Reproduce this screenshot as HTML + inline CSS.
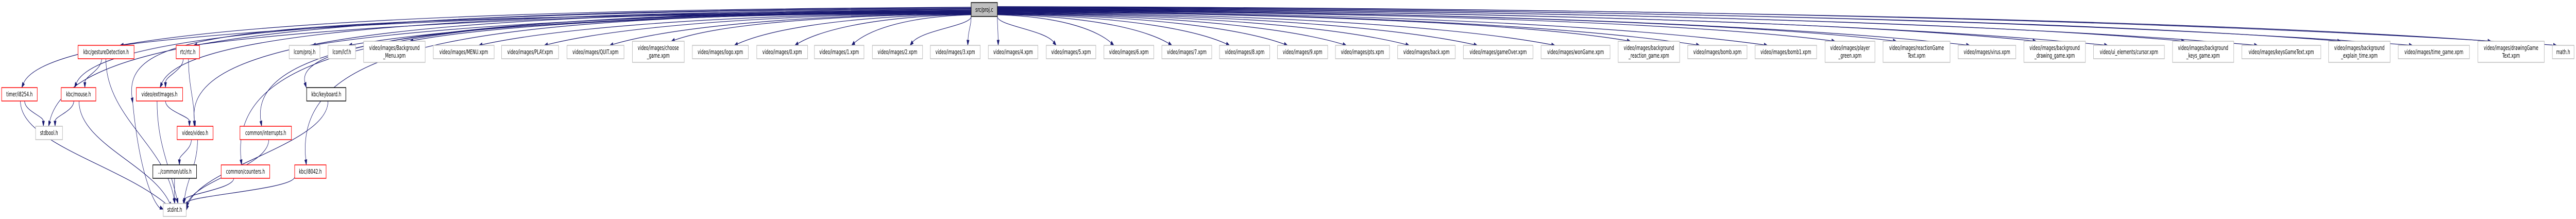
<!DOCTYPE html>
<html><head><meta charset="utf-8"><style>
html,body{margin:0;padding:0;background:#fff;width:100%;height:100%;overflow:hidden}
svg{display:block;overflow:hidden;width:100vw;height:100vh}
svg text{font-family:"DejaVu Sans","Liberation Sans",sans-serif;font-size:12px;fill:#000}
</style></head><body>
<svg id="s" viewBox="0 0 7955 425" preserveAspectRatio="none" xmlns="http://www.w3.org/2000/svg">
<g id="edges" fill="none" stroke="#191970" stroke-width="1.2"></g>
<g id="arrows" fill="#191970" stroke="#191970" stroke-width="1"></g>
<g stroke-width="1.5" fill="#fff">
<rect x="2999" y="5" width="81" height="27" fill="#bfbfbf" stroke="#000"/>
<rect x="241" y="88" width="173" height="26" stroke="#ff0000"/>
<rect x="544" y="88" width="72" height="26" stroke="#ff0000"/>
<rect x="893" y="88" width="95" height="26" stroke="#bfbfbf"/>
<rect x="1013" y="88" width="85" height="26" stroke="#bfbfbf"/>
<rect x="1123" y="80" width="190" height="41" stroke="#bfbfbf"/>
<rect x="1338" y="88" width="188" height="26" stroke="#bfbfbf"/>
<rect x="1549" y="88" width="176" height="26" stroke="#bfbfbf"/>
<rect x="1751" y="88" width="176" height="26" stroke="#bfbfbf"/>
<rect x="1953" y="80" width="160" height="41" stroke="#bfbfbf"/>
<rect x="2138" y="88" width="173" height="26" stroke="#bfbfbf"/>
<rect x="2337" y="88" width="157" height="26" stroke="#bfbfbf"/>
<rect x="2515" y="88" width="153" height="26" stroke="#bfbfbf"/>
<rect x="2694" y="88" width="155" height="26" stroke="#bfbfbf"/>
<rect x="2873" y="88" width="154" height="26" stroke="#bfbfbf"/>
<rect x="3052" y="88" width="153" height="26" stroke="#bfbfbf"/>
<rect x="3231" y="88" width="153" height="26" stroke="#bfbfbf"/>
<rect x="3409" y="88" width="154" height="26" stroke="#bfbfbf"/>
<rect x="3588" y="88" width="154" height="26" stroke="#bfbfbf"/>
<rect x="3766" y="88" width="155" height="26" stroke="#bfbfbf"/>
<rect x="3945" y="88" width="155" height="26" stroke="#bfbfbf"/>
<rect x="4124" y="88" width="167" height="26" stroke="#bfbfbf"/>
<rect x="4316" y="88" width="178" height="26" stroke="#bfbfbf"/>
<rect x="4519" y="88" width="215" height="26" stroke="#bfbfbf"/>
<rect x="4759" y="88" width="213" height="26" stroke="#bfbfbf"/>
<rect x="4997" y="80" width="190" height="41" stroke="#bfbfbf"/>
<rect x="5212" y="88" width="183" height="26" stroke="#bfbfbf"/>
<rect x="5420" y="88" width="190" height="26" stroke="#bfbfbf"/>
<rect x="5636" y="80" width="154" height="41" stroke="#bfbfbf"/>
<rect x="5815" y="80" width="207" height="41" stroke="#bfbfbf"/>
<rect x="6047" y="88" width="178" height="26" stroke="#bfbfbf"/>
<rect x="6250" y="80" width="190" height="41" stroke="#bfbfbf"/>
<rect x="6465" y="88" width="219" height="26" stroke="#bfbfbf"/>
<rect x="6709" y="80" width="189" height="41" stroke="#bfbfbf"/>
<rect x="6923" y="88" width="244" height="26" stroke="#bfbfbf"/>
<rect x="7191" y="80" width="190" height="41" stroke="#bfbfbf"/>
<rect x="7406" y="88" width="220" height="26" stroke="#bfbfbf"/>
<rect x="7652" y="80" width="205" height="41" stroke="#bfbfbf"/>
<rect x="7882" y="88" width="67" height="26" stroke="#bfbfbf"/>
<rect x="5" y="170" width="110" height="26" stroke="#ff0000"/>
<rect x="189" y="170" width="107" height="26" stroke="#ff0000"/>
<rect x="421" y="170" width="143" height="26" stroke="#ff0000"/>
<rect x="947" y="170" width="121" height="26" stroke="#000"/>
<rect x="110" y="245" width="83" height="26" stroke="#bfbfbf"/>
<rect x="547" y="245" width="111" height="26" stroke="#ff0000"/>
<rect x="741" y="245" width="159" height="26" stroke="#ff0000"/>
<rect x="472" y="320" width="135" height="26" stroke="#000"/>
<rect x="683" y="320" width="150" height="26" stroke="#ff0000"/>
<rect x="910" y="320" width="97" height="26" stroke="#ff0000"/>
<rect x="504" y="395" width="71" height="25" stroke="#bfbfbf"/>
</g>
<g text-anchor="middle">
<text x="3039.5" y="23">src/proj.c</text>
<text x="327.5" y="105">kbc/gestureDetection.h</text>
<text x="580" y="105">rtc/rtc.h</text>
<text x="940.5" y="105">lcom/proj.h</text>
<text x="1055.5" y="105">lcom/lcf.h</text>
<text x="1218" y="97">video/images/Background</text><text x="1218" y="112">_Menu.xpm</text>
<text x="1432" y="105">video/images/MENU.xpm</text>
<text x="1637" y="105">video/images/PLAY.xpm</text>
<text x="1839" y="105">video/images/QUIT.xpm</text>
<text x="2033" y="97">video/images/choose</text><text x="2033" y="112">_game.xpm</text>
<text x="2224.5" y="105">video/images/logo.xpm</text>
<text x="2415.5" y="105">video/images/0.xpm</text>
<text x="2591.5" y="105">video/images/1.xpm</text>
<text x="2771.5" y="105">video/images/2.xpm</text>
<text x="2950" y="105">video/images/3.xpm</text>
<text x="3128.5" y="105">video/images/4.xpm</text>
<text x="3307.5" y="105">video/images/5.xpm</text>
<text x="3486" y="105">video/images/6.xpm</text>
<text x="3665" y="105">video/images/7.xpm</text>
<text x="3843.5" y="105">video/images/8.xpm</text>
<text x="4022.5" y="105">video/images/9.xpm</text>
<text x="4207.5" y="105">video/images/pts.xpm</text>
<text x="4405" y="105">video/images/back.xpm</text>
<text x="4626.5" y="105">video/images/gameOver.xpm</text>
<text x="4865.5" y="105">video/images/wonGame.xpm</text>
<text x="5092" y="97">video/images/background</text><text x="5092" y="112">_reaction_game.xpm</text>
<text x="5303.5" y="105">video/images/bomb.xpm</text>
<text x="5515" y="105">video/images/bomb1.xpm</text>
<text x="5713" y="97">video/images/player</text><text x="5713" y="112">_green.xpm</text>
<text x="5918.5" y="97">video/images/reactionGame</text><text x="5918.5" y="112">Text.xpm</text>
<text x="6136" y="105">video/images/virus.xpm</text>
<text x="6345" y="97">video/images/background</text><text x="6345" y="112">_drawing_game.xpm</text>
<text x="6574.5" y="105">video/ui_elements/cursor.xpm</text>
<text x="6803.5" y="97">video/images/background</text><text x="6803.5" y="112">_keys_game.xpm</text>
<text x="7045" y="105">video/images/keysGameText.xpm</text>
<text x="7286" y="97">video/images/background</text><text x="7286" y="112">_explain_time.xpm</text>
<text x="7516" y="105">video/images/time_game.xpm</text>
<text x="7754.5" y="97">video/images/drawingGame</text><text x="7754.5" y="112">Text.xpm</text>
<text x="7915.5" y="105">math.h</text>
<text x="60" y="187">timer/i8254.h</text>
<text x="242.5" y="187">kbc/mouse.h</text>
<text x="492.5" y="187">video/extImages.h</text>
<text x="1007.5" y="187">kbc/keyboard.h</text>
<text x="151.5" y="262">stdbool.h</text>
<text x="602.5" y="262">video/video.h</text>
<text x="820.5" y="262">common/interrupts.h</text>
<text x="539.5" y="337">../common/utils.h</text>
<text x="758" y="337">common/counters.h</text>
<text x="958.5" y="337">kbc/i8042.h</text>
<text x="539.5" y="411">stdint.h</text>
</g>
</svg>
<script>
(function(){
var NS="http://www.w3.org/2000/svg",E=document.getElementById('edges'),A=document.getElementById('arrows');
function arrow(px,py,tx,ty){var dx=tx-px,dy=ty-py,l=Math.hypot(dx,dy)||1;dx/=l;dy/=l;
var bx=tx-dx*10,by=ty-dy*10,nx=-dy*3.5,ny=dx*3.5;
var p=document.createElementNS(NS,'polygon');p.setAttribute('points',tx+','+ty+' '+(bx+nx)+','+(by+ny)+' '+(bx-nx)+','+(by-ny));A.appendChild(p);return [bx,by];}
function cub(s,c1,c2,t){var b=arrow(c2[0],c2[1],t[0],t[1]);var p=document.createElementNS(NS,'path');
p.setAttribute('d','M'+s[0]+','+s[1]+' C'+c1[0]+','+c1[1]+' '+c2[0]+','+c2[1]+' '+b[0]+','+b[1]);E.appendChild(p);}
var row1=[[1123,1313,80],[1338,1526,88],[1549,1725,88],[1751,1927,88],[1953,2113,80],[2138,2311,88],[2337,2494,88],[2515,2668,88],[2694,2849,88],[2873,3027,88],[3052,3205,88],[3231,3384,88],[3409,3563,88],[3588,3742,88],[3766,3921,88],[3945,4100,88],[4124,4291,88],[4316,4494,88],[4519,4734,88],[4759,4972,88],[4997,5187,80],[5212,5395,88],[5420,5610,88],[5636,5790,80],[5815,6022,80],[6047,6225,88],[6250,6440,80],[6465,6684,88],[6709,6898,80],[6923,7167,88],[7191,7381,80],[7406,7626,88],[7652,7857,80],[7882,7949,88],[893,988,88],[1013,1098,88],[241,414,88],[544,616,88]];
row1.forEach(function(n){var w=n[1]-n[0],c=(n[0]+n[1])/2,tx,sx,sy;
 if(c<2999){tx=n[1]-w*0.25;sx=2999;}else if(c>3080){tx=n[0]+w*0.2;sx=3080;}else{tx=c;sx=c<3040?3025:3055;}
 var d=Math.abs(tx-sx),ty=n[2];
 if(d<200){cub([sx,32],[sx,50],[tx+(sx-tx)*0.2,ty-30],[tx,ty]);return;}
 sy=12+18*(1-Math.min(1,d/5000));
 cub([sx,sy],[sx+(tx-sx)*0.6,sy+4],[tx+(sx-tx)*0.12,ty-25],[tx,ty]);});
var deep=[[67,170],[150,245],[230,170],[494,170],[603,245],[746,320],[808,245],[946,320],[946,170]];
deep.forEach(function(t,i){var sx=2999,sy=14+i*1.3;var tx=t[0],ty=t[1];
 cub([sx,sy],[tx+(sx-tx)*0.25,sy+6],[tx+(tx<600?60:-40),80],[tx,ty]);});
// proj.c -> stdint (enters from the left)
cub([2999,26],[700,30],[380,60],[410,200]);
(function(){var p=document.createElementNS(NS,'path');p.setAttribute('d','M410,200 C430,330 470,390 494,404');E.appendChild(p);arrow(480,398,504,406);})();
function ln(s,t,bend){cub(s,[s[0],s[1]+(t[1]-s[1])*0.4],[t[0]+(bend||0),t[1]-(t[1]-s[1])*0.4],t);}
ln([314,114],[262,170]);ln([327,114],[540,395],-30);
ln([566,114],[511,170]);ln([582,114],[600,245]);
ln([76,196],[134,245]);ln([63,196],[530,405],-150);
ln([228,196],[170,245]);ln([244,196],[530,402],-60);
ln([485,196],[550,395],-30);ln([511,196],[585,245]);
ln([591,271],[554,320]);ln([610,271],[568,395],10);
ln([539,346],[539,395]);ln([722,346],[568,398]);ln([830,271],[575,402],30);
ln([910,343],[575,404]);ln([1013,196],[575,408],40);
})();
</script>
</body></html>
